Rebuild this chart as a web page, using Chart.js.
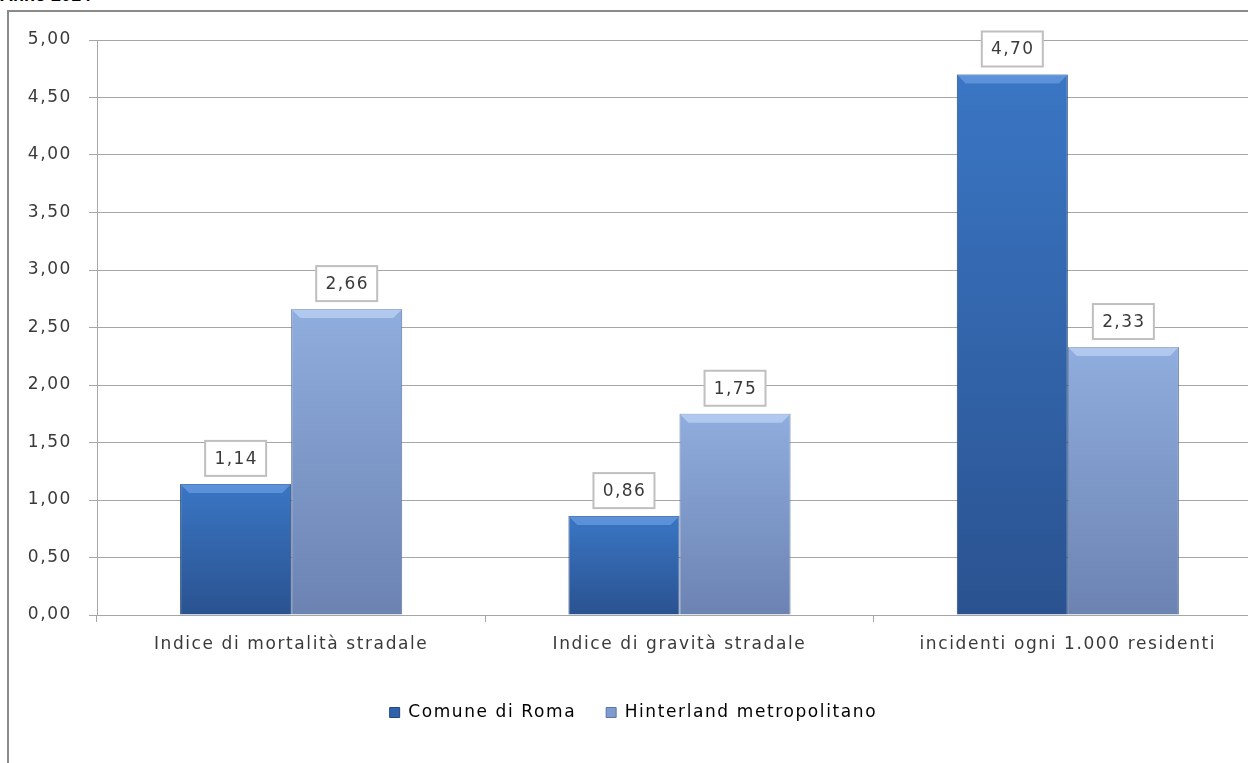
<!DOCTYPE html>
<html lang="it">
<head>
  <meta charset="UTF-8" />
  <title>Indici incidentalità - Anno 2014</title>
  <script src="https://cdn.jsdelivr.net/npm/chart.js"></script>
  <style>
    html, body { margin: 0; padding: 0; background: #fff; overflow: hidden; }
    body { width: 1248px; height: 763px; position: relative; }
    .titolo { position: absolute; left: 0; top: -15px; margin: 0; font: bold 18px "Liberation Sans", Arial, sans-serif; color: #000; }
    .cornice { position: absolute; left: 7px; top: 10px; width: 1300px; height: 800px; border-left: 2px solid #8a8a8a; border-top: 2px solid #8a8a8a; }
    #grafico { position: absolute; left: 0; top: 0; }
  </style>
</head>
<body>
  <p class="titolo">Anno 2014</p>
  <div class="cornice"></div>
  <canvas id="grafico" width="1290" height="763"></canvas>

  <script>
    const categorie = ['Indice di mortalità stradale', 'Indice di gravità stradale', 'incidenti ogni 1.000 residenti'];
    const serie = ['Comune di Roma', 'Hinterland metropolitano'];
    const valoriRoma = [1.14, 0.86, 4.70];
    const valoriHinterland = [2.66, 1.75, 2.33];
    const tickY = [0, 0.5, 1, 1.5, 2, 2.5, 3, 3.5, 4, 4.5, 5];

    const fmt = v => v.toFixed(2).replace('.', ',');
    const FONT = '"DejaVu Sans", sans-serif';
    const TESTO = '#3a3a3a';

    // gradiente verticale per ogni barra
    function sfumatura(top, bottom) {
      return function (context) {
        const chart = context.chart;
        if (!chart.chartArea || context.type !== 'data') return top;
        const y = chart.scales.y;
        const y0 = y.getPixelForValue(context.raw);
        const y1 = y.getPixelForValue(0);
        const g = chart.ctx.createLinearGradient(0, y0, 0, y1);
        g.addColorStop(0, top);
        g.addColorStop(1, bottom);
        return g;
      };
    }

    // testo un po' più largo, come nell'originale
    const spaziatura = {
      id: 'spaziatura',
      beforeInit(chart) { chart.ctx.letterSpacing = '1.6px'; },
      beforeDraw(chart) { chart.ctx.letterSpacing = '1.6px'; }
    };

    // la legenda nell'originale sta un po' più a sinistra
    const spostaLegenda = {
      id: 'spostaLegenda',
      afterLayout(chart) {
        chart.legend.left -= 28;
        chart.legend.right -= 28;
      }
    };

    const etichette = {
      id: 'etichette',
      afterDatasetsDraw(chart) {
        const ctx = chart.ctx;
        ctx.save();
        ctx.letterSpacing = '1.4px';
        ctx.font = '17px ' + FONT;
        ctx.textAlign = 'center';
        ctx.textBaseline = 'middle';
        chart.data.datasets.forEach((ds, i) => {
          chart.getDatasetMeta(i).data.forEach((bar, j) => {
            const w = 61, h = 35;
            const x = bar.x - w / 2;
            const y = bar.y - 8 - h;
            ctx.fillStyle = '#fff';
            ctx.fillRect(x, y, w, h);
            ctx.strokeStyle = '#bfbfbf';
            ctx.lineWidth = 2;
            ctx.strokeRect(x, y, w, h);
            ctx.fillStyle = TESTO;
            ctx.fillText(fmt(ds.data[j]), bar.x + 0.5, y + h / 2 + 1);
          });
        });
        ctx.restore();
      }
    };

    // bordino chiaro in cima alle barre
    const smusso = {
      id: 'smusso',
      afterDatasetsDraw(chart) {
        const ctx = chart.ctx;
        const colori = ['rgba(120,170,235,0.55)', 'rgba(200,220,250,0.6)'];
        ctx.save();
        chart.data.datasets.forEach((ds, i) => {
          chart.getDatasetMeta(i).data.forEach(bar => {
            const l = bar.x - bar.width / 2, r = bar.x + bar.width / 2, t = bar.y, d = 9;
            ctx.fillStyle = colori[i];
            ctx.beginPath();
            ctx.moveTo(l, t);
            ctx.lineTo(r, t);
            ctx.lineTo(r - d, t + d);
            ctx.lineTo(l + d, t + d);
            ctx.closePath();
            ctx.fill();
          });
        });
        ctx.restore();
      }
    };

    new Chart(document.getElementById('grafico'), {
      type: 'bar',
      data: {
        labels: categorie,
        datasets: [
          {
            label: serie[0],
            data: valoriRoma,
            backgroundColor: sfumatura('#3a76c4', '#2a5290'),
            borderColor: '#24487f',
            borderWidth: 1,
            categoryPercentage: 0.572,
            barPercentage: 1
          },
          {
            label: serie[1],
            data: valoriHinterland,
            backgroundColor: sfumatura('#8fadde', '#6c83b2'),
            borderColor: '#5f75a3',
            borderWidth: 1,
            categoryPercentage: 0.572,
            barPercentage: 1
          }
        ]
      },
      options: {
        responsive: false,
        animation: false,
        layout: { padding: { top: 40, right: 28, bottom: 32, left: 0 } },
        scales: {
          y: {
            min: 0,
            max: 5,
            afterBuildTicks: s => { s.ticks = tickY.map(v => ({ value: v })); },
            afterFit: s => { s.width = 97; },
            ticks: {
              padding: 17,
              color: TESTO,
              font: { family: FONT, size: 17 },
              callback: v => fmt(v)
            },
            grid: { color: '#a6a6a6', lineWidth: 1, tickLength: 8, drawTicks: true },
            border: { display: true, color: '#a6a6a6' }
          },
          x: {
            afterFit: s => { s.height = 59; },
            ticks: {
              padding: 12,
              color: TESTO,
              font: { family: FONT, size: 17 }
            },
            grid: { drawOnChartArea: false, drawTicks: true, tickLength: 7, color: '#a6a6a6' },
            border: { display: true, color: '#a6a6a6' }
          }
        },
        plugins: {
          legend: {
            position: 'bottom',
            labels: {
              boxWidth: 10,
              boxHeight: 10,
              padding: 30,
              color: TESTO,
              font: { family: FONT, size: 17 },
              generateLabels: chart => chart.data.datasets.map((ds, i) => ({
                text: ds.label,
                fillStyle: i === 0 ? '#2f63ab' : '#7f9bcf',
                strokeStyle: i === 0 ? '#24487f' : '#5f75a3',
                lineWidth: 1,
                datasetIndex: i
              }))
            }
          },
          tooltip: { enabled: false }
        }
      },
      plugins: [spaziatura, spostaLegenda, smusso, etichette]
    });
  </script>
</body>
</html>
